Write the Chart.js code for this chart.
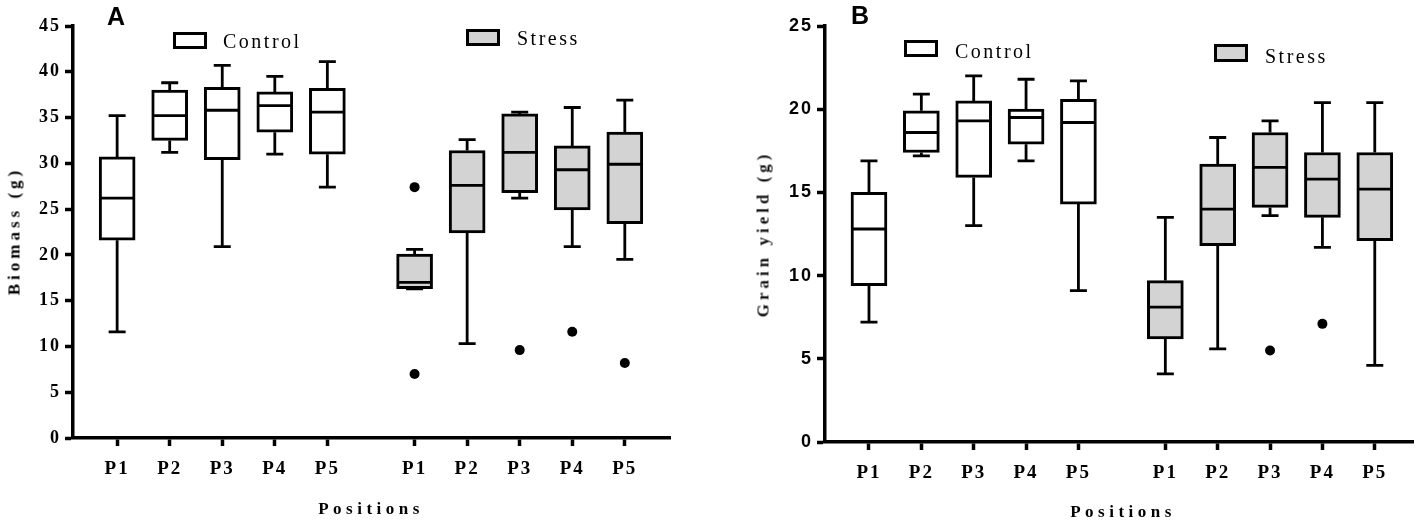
<!DOCTYPE html>
<html>
<head>
<meta charset="utf-8">
<title>Biomass and grain yield by position</title>
<script src="https://cdn.jsdelivr.net/npm/chart.js@4.4.1/dist/chart.umd.min.js"></script>
<style>
  body { margin: 0; background: #fff; width: 1418px; height: 525px; overflow: hidden; position: relative; }
  .panel { position: absolute; top: 0; height: 525px; }
  .txt { position: absolute; white-space: nowrap; color: #000; font-family: "Liberation Serif", "Times New Roman", serif; line-height: 1; }
  .letter { font-family: "Liberation Sans", Arial, sans-serif; font-weight: bold; font-size: 25px; }
  .leg { font-size: 20px; letter-spacing: 2.5px; }
  .swatch { position: absolute; box-sizing: border-box; border: 3px solid #000; }
  .ytitle { transform: translate(-50%, -50%) rotate(-90deg); font-size: 17px; letter-spacing: 4px; }
  .xtitle { transform: translate(-50%, -50%); font-size: 17px; font-weight: bold; letter-spacing: 4.5px; }
</style>
</head>
<body>

<div class="panel" style="left:0; width:680px;"><canvas id="chartA"></canvas></div>
<div class="panel" style="left:752px; width:666px;"><canvas id="chartB"></canvas></div>

<!-- panel letters -->
<div class="txt letter" style="left:107px; top:4px;">A</div>
<div class="txt letter" style="left:851px; top:3px;">B</div>

<!-- legends -->
<div class="swatch" style="left:173px; top:32px; width:34px; height:17px; background:#fff;"></div>
<div class="txt leg" style="left:223px; top:31px;">Control</div>
<div class="swatch" style="left:466px; top:29px; width:34px; height:17px; background:#d3d3d3;"></div>
<div class="txt leg" style="left:517px; top:28px;">Stress</div>

<div class="swatch" style="left:904px; top:40px; width:34px; height:17px; background:#fff;"></div>
<div class="txt leg" style="left:955px; top:41px;">Control</div>
<div class="swatch" style="left:1214px; top:44px; width:34px; height:18px; background:#d3d3d3;"></div>
<div class="txt leg" style="left:1265px; top:46px;">Stress</div>

<!-- axis titles -->
<div class="txt ytitle" style="left:14px; top:231px; font-weight:bold;">Biomass (g)</div>
<div class="txt xtitle" style="left:371px; top:508px;">Positions</div>
<div class="txt ytitle" style="left:763px; top:234px; font-weight:600; color:#111;">Grain yield (g)</div>
<div class="txt xtitle" style="left:1123px; top:511px;">Positions</div>

<script>
// Positions (same for both groups)
const positions = ["P1", "P2", "P3", "P4", "P5"];

// Panel A - Biomass (g)
const biomassControlMin = [11.6, 31.2, 20.9, 31.0, 27.4];
const biomassControlQ1  = [21.6, 32.5, 30.4, 33.4, 31.0];
const biomassControlMed = [26.2, 35.2, 35.8, 36.3, 35.6];
const biomassControlQ3  = [30.7, 38.0, 38.3, 37.8, 38.2];
const biomassControlMax = [35.2, 38.8, 40.7, 39.5, 41.1];

const biomassStressMin = [16.3, 10.3, 26.2, 20.9, 19.5];
const biomassStressQ1  = [16.3, 22.4, 26.8, 24.9, 23.4];
const biomassStressMed = [17.0, 27.6, 31.2, 29.3, 29.9];
const biomassStressQ3  = [20.1, 31.4, 35.4, 31.9, 33.4];
const biomassStressMax = [20.6, 32.6, 35.6, 36.1, 36.9];
const biomassStressOutliers = [[27.4, 7.0], [], [9.6], [11.6], [8.2]];

// Panel B - Grain yield (g)
const grainControlMin = [7.2, 17.2, 13.0, 16.9, 9.1];
const grainControlQ1  = [9.4, 17.4, 15.9, 17.9, 14.3];
const grainControlMed = [12.8, 18.6, 19.3, 19.5, 19.2];
const grainControlQ3  = [15.0, 19.9, 20.5, 20.0, 20.6];
const grainControlMax = [16.9, 20.9, 22.0, 21.8, 21.7];

const grainStressMin = [4.1, 5.6, 13.6, 11.7, 4.6];
const grainStressQ1  = [6.2, 11.8, 14.1, 13.5, 12.1];
const grainStressMed = [8.1, 14.0, 16.5, 15.8, 15.2];
const grainStressQ3  = [9.7, 16.7, 18.6, 17.4, 17.4];
const grainStressMax = [13.5, 18.3, 19.3, 20.4, 20.4];
const grainStressOutliers = [[], [], [5.5], [7.1], []];

// x placement: control boxes at 1..5, a wider gap, then stress boxes
const GAP = 1.66;
const controlX = positions.map((_, i) => i + 1);
const stressX = positions.map((_, i) => i + 1 + positions.length + GAP - 1);
const tickX = controlX.concat(stressX);
const tickLabels = positions.concat(positions);

const BOX_W = 36;
const CAP_W = 17;

// draws whiskers, caps and medians on top of the floating bars
const whiskerPlugin = {
    id: "whiskers",
    beforeDraw(chart) {
        chart.ctx.letterSpacing = "2px";
    },
    afterDatasetsDraw(chart) {
        const groups = chart.options.plugins.whiskers.groups;
        const ctx = chart.ctx;
        const xs = chart.scales.x;
        const ys = chart.scales.y;
        ctx.save();
        ctx.strokeStyle = "#000";
        ctx.lineCap = "butt";
        groups.forEach(g => {
            g.x.forEach((xv, i) => {
                const px = xs.getPixelForValue(xv);
                const yMin = ys.getPixelForValue(g.min[i]);
                const yQ1 = ys.getPixelForValue(g.q1[i]);
                const yMed = ys.getPixelForValue(g.med[i]);
                const yQ3 = ys.getPixelForValue(g.q3[i]);
                const yMax = ys.getPixelForValue(g.max[i]);
                ctx.lineWidth = 2.8;
                ctx.beginPath();
                ctx.moveTo(px, yQ3); ctx.lineTo(px, yMax);
                ctx.moveTo(px - CAP_W / 2, yMax); ctx.lineTo(px + CAP_W / 2, yMax);
                ctx.moveTo(px, yQ1); ctx.lineTo(px, yMin);
                ctx.moveTo(px - CAP_W / 2, yMin); ctx.lineTo(px + CAP_W / 2, yMin);
                ctx.stroke();
                ctx.beginPath();
                ctx.moveTo(px - BOX_W / 2 + 1.5, yMed); ctx.lineTo(px + BOX_W / 2 - 1.5, yMed);
                ctx.stroke();
            });
        });
        ctx.restore();
    }
};

function boxData(xs, q1, q3) {
    return xs.map((x, i) => ({ x: x, y: [q1[i], q3[i]] }));
}

function outlierData(xs, outliers) {
    const pts = [];
    outliers.forEach((list, i) => list.forEach(v => pts.push({ x: xs[i], y: v })));
    return pts;
}

function makeChart(id, cfg) {
    const ctx = document.getElementById(id).getContext("2d");
    return new Chart(ctx, {
        type: "bar",
        data: {
            datasets: [
                {
                    label: "Control",
                    data: boxData(controlX, cfg.control.q1, cfg.control.q3),
                    backgroundColor: "#ffffff",
                    borderColor: "#000000",
                    borderWidth: 3,
                    borderSkipped: false,
                    barThickness: BOX_W,
                    grouped: false
                },
                {
                    label: "Stress",
                    data: boxData(stressX, cfg.stress.q1, cfg.stress.q3),
                    backgroundColor: "#d3d3d3",
                    borderColor: "#000000",
                    borderWidth: 3,
                    borderSkipped: false,
                    barThickness: BOX_W,
                    grouped: false
                },
                {
                    type: "scatter",
                    label: "Outliers",
                    data: outlierData(stressX, cfg.stress.outliers),
                    pointRadius: 5,
                    pointBackgroundColor: "#000",
                    pointBorderWidth: 0,
                    showLine: false
                }
            ]
        },
        options: {
            responsive: false,
            animation: false,
            layout: { padding: { top: 26, right: cfg.padRight, bottom: 0, left: 0 } },
            plugins: {
                legend: { display: false },
                tooltip: { enabled: false },
                whiskers: {
                    groups: [
                        { x: controlX, ...cfg.control },
                        { x: stressX, ...cfg.stress }
                    ]
                }
            },
            scales: {
                x: {
                    type: "linear",
                    min: 0.16,
                    max: cfg.xMax,
                    offset: false,
                    afterBuildTicks: scale => { scale.ticks = tickX.map(v => ({ value: v })); },
                    afterFit: scale => { scale.height = cfg.xHeight; },
                    border: { display: true, color: "#000", width: 3.5 },
                    grid: { display: true, offset: false, drawOnChartArea: false, drawTicks: true, tickLength: 8, tickWidth: 3.5, tickColor: "#000" },
                    ticks: {
                        autoSkip: false,
                        maxRotation: 0,
                        padding: 12,
                        color: "#000",
                        font: { family: "'Liberation Serif', 'Times New Roman', serif", size: 19, weight: "bold" },
                        callback: (v, i) => tickLabels[i]
                    }
                },
                y: {
                    min: 0,
                    max: cfg.yMax,
                    afterFit: scale => { scale.width = 73; },
                    border: { display: true, color: "#000", width: 3.5 },
                    grid: { display: true, drawOnChartArea: false, drawTicks: true, tickLength: 8, tickWidth: 3.5, tickColor: "#000" },
                    ticks: {
                        stepSize: 5,
                        padding: 4,
                        color: "#000",
                        font: cfg.yFont
                    }
                }
            }
        },
        plugins: [whiskerPlugin]
    });
}

document.getElementById("chartA").width = 680;
document.getElementById("chartA").height = 525;
document.getElementById("chartB").width = 666;
document.getElementById("chartB").height = 525;

makeChart("chartA", {
    yMax: 45,
    xMax: 11.52,
    xHeight: 87,
    padRight: 10,
    yFont: { family: "'Liberation Serif', 'Times New Roman', serif", size: 18, weight: "bold" },
    control: { min: biomassControlMin, q1: biomassControlQ1, med: biomassControlMed, q3: biomassControlQ3, max: biomassControlMax },
    stress: { min: biomassStressMin, q1: biomassStressQ1, med: biomassStressMed, q3: biomassStressQ3, max: biomassStressMax, outliers: biomassStressOutliers }
});

makeChart("chartB", {
    yMax: 25,
    xMax: 11.39,
    xHeight: 83,
    padRight: 1,
    yFont: { family: "'Liberation Sans', Arial, sans-serif", size: 18, weight: "bold" },
    control: { min: grainControlMin, q1: grainControlQ1, med: grainControlMed, q3: grainControlQ3, max: grainControlMax },
    stress: { min: grainStressMin, q1: grainStressQ1, med: grainStressMed, q3: grainStressQ3, max: grainStressMax, outliers: grainStressOutliers }
});
</script>
</body>
</html>
